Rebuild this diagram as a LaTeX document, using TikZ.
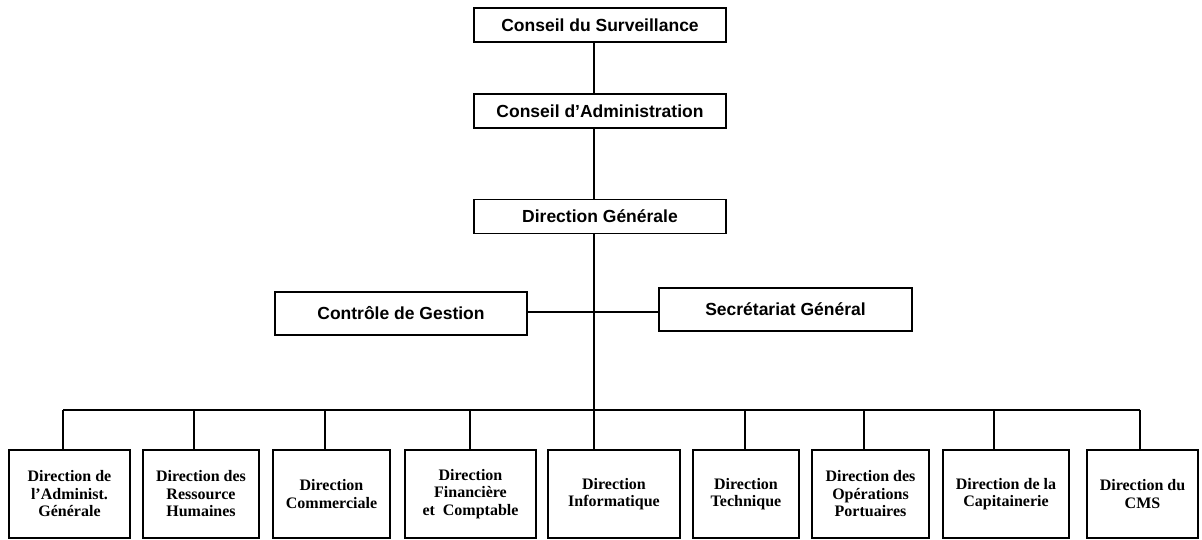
\documentclass[tikz,border=0pt]{standalone}
\usepackage{fontspec}
\setmainfont{Liberation Serif}
\setsansfont{Liberation Sans}

\tikzset{
  topbox/.style={draw,line width=1.6pt,minimum width=252pt,minimum height=34pt,inner sep=0pt,
    font=\sffamily\bfseries\fontsize{17.5}{20}\selectfont},
  dirbox/.style={draw,line width=1.6pt,minimum height=88pt,inner sep=0pt,align=center,
    font=\bfseries\fontsize{16}{17.5}\selectfont},
  link/.style={line width=1.5pt}
}

\begin{document}
\begin{tikzpicture}[x=1pt,y=-1pt]
\useasboundingbox (0,0) rectangle (1202,540);

% ---- the boards and the general direction
\node[topbox] (cs) at (600,25) {Conseil du Surveillance};
\node[topbox] (ca) at (600,111) {Conseil d'Administration};
\node[topbox] (dg) at (600,216.5) {Direction Générale};

% ---- staff boxes beside the spine
\node[topbox,minimum height=43pt] (cg) at (401,313.5) {Contrôle de Gestion};
\node[topbox,minimum width=253pt,minimum height=43pt] (sg) at (785.5,309.5) {Secrétariat Général};

% ---- the nine directions
\node[dirbox,minimum width=121pt] (d1) at (69.5,494) {Direction de\\l'Administ.\\Générale};
\node[dirbox,minimum width=116pt] (d2) at (201,494) {Direction des\\Ressource\\Humaines};
\node[dirbox,minimum width=117pt] (d3) at (331.5,494) {Direction\\Commerciale};
\node[dirbox,minimum width=131pt] (d4) at (470.5,494) {Direction\\Financière\\et~ Comptable};
\node[dirbox,minimum width=132pt] (d5) at (614,494) {Direction\\Informatique};
\node[dirbox,minimum width=106pt] (d6) at (746,494) {Direction\\Technique};
\node[dirbox,minimum width=117pt] (d7) at (870.5,494) {Direction des\\Opérations\\Portuaires};
\node[dirbox,minimum width=126pt] (d8) at (1006,494) {Direction de la\\Capitainerie};
\node[dirbox,minimum width=111pt] (d9) at (1142.5,494) {Direction du\\CMS};

% ---- drops from the bus to each direction
\foreach \i/\x in {1/63,2/194,3/325,4/470,5/594,6/745,7/864,8/994,9/1140}{
  \coordinate (t\i) at (\x,410);
  \draw[link] (t\i) -- (t\i |- d\i.north);
}
% ---- the bus itself
\draw[link] (t1) -- (t9);

% ---- the spine
\coordinate (mid) at (594,312);
\draw[link] (cs.south -| t5) -- (ca.north -| t5);
\draw[link] (ca.south -| t5) -- (dg.north -| t5);
\draw[link] (dg.south -| t5) -- (t5);
\draw[link] (cg.east |- mid) -- (sg.west |- mid);
\end{tikzpicture}
\end{document}
